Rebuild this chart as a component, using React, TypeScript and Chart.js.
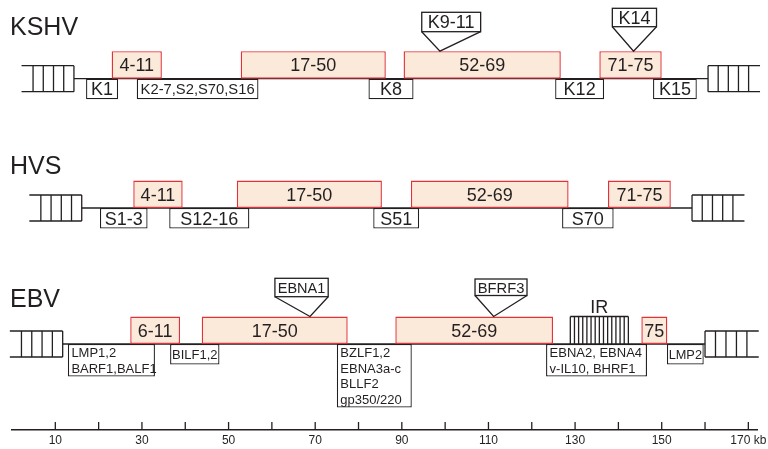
import React, { useEffect, useRef } from 'react';
import { Chart, registerables } from 'chart.js';

Chart.register(...registerables);

// ---------------- DATA (kb) ----------------
const GENOMES = ['KSHV', 'HVS', 'EBV'];

// Conserved gene blocks
const BLOCK_GENOME = [0, 0, 0, 0, 1, 1, 1, 1, 2, 2, 2, 2];
const BLOCK_START = [23.0, 52.8, 90.4, 135.6, 28.0, 51.9, 92.1, 137.6, 27.3, 43.8, 88.5, 145.3];
const BLOCK_END = [34.6, 86.3, 126.7, 150.0, 39.4, 85.4, 128.5, 152.1, 38.8, 77.5, 124.9, 151.3];
const BLOCK_LABELS = ['4-11', '17-50', '52-69', '71-75', '4-11', '17-50', '52-69', '71-75', '6-11', '17-50', '52-69', '75'];

// Unique gene regions
const GENE_GENOME = [0, 0, 0, 0, 0, 1, 1, 1, 1, 2, 2, 2, 2, 2];
const GENE_START = [17.1, 28.8, 82.3, 125.4, 148.0, 20.3, 36.3, 83.4, 127.0, 12.9, 36.5, 75.0, 123.3, 151.2];
const GENE_END = [24.5, 56.9, 92.7, 136.7, 158.1, 31.3, 54.8, 94.0, 138.9, 33.0, 47.9, 92.3, 146.6, 159.7];
const GENE_LABELS = [
  ['K1'], ['K2-7,S2,S70,S16'], ['K8'], ['K12'], ['K15'],
  ['S1-3'], ['S12-16'], ['S51'], ['S70'],
  ['LMP1,2', 'BARF1,BALF1'], ['BILF1,2'], ['BZLF1,2', 'EBNA3a-c', 'BLLF2', 'gp350/220'],
  ['EBNA2, EBNA4', 'v-IL10, BHRF1'], ['LMP2'],
];

// Insertions (site of insertion and labelled box extent)
const INSERT_GENOME = [0, 0, 2, 2];
const INSERT_SITE = [98.8, 143.5, 68.8, 111.2];
const INSERT_START = [94.6, 138.6, 60.7, 106.9];
const INSERT_END = [108.2, 148.8, 73.0, 118.9];
const INSERT_LABELS = ['K9-11', 'K14', 'EBNA1', 'BFRF3'];

// Terminal repeats
const TR_GENOME = [0, 0, 1, 1, 2, 2];
const TR_START = [2.2, 160.7, 4.0, 157.0, -0.5, 160.0];
const TR_END = [14.3, 172.7, 16.1, 169.1, 11.7, 172.4];

// Internal repeat
const IR_GENOME = [2];
const IR_START = [128.9];
const IR_END = [142.3];
const IR_LABELS = ['IR'];

// Genome backbone
const LINE_START = [14.3, 16.1, 11.7];
const LINE_END = [160.7, 157.0, 160.0];

// Axis
const AXIS_TICKS = [10, 20, 30, 40, 50, 60, 70, 80, 90, 100, 110, 120, 130, 140, 150, 160, 170];
const AXIS_LABELS = ['10', '', '30', '', '50', '', '70', '', '90', '', '110', '', '130', '', '150', '', '170 kb'];

// ---------------- LAYOUT / STYLE ----------------
const FONT = "'Liberation Sans', Arial, Helvetica, sans-serif";
const INK = '#231f20';
const BLOCK_FILL = '#fbe9d9';
const BLOCK_EDGE = '#e23238';
const ROW_LINE_Y = [78.7, 208, 344];
const ROW_TITLE_BASE = [35, 174.3, 307.3];
const BLOCK_H = 27.5;
const TR_HALF = 13;
const TR_RUNGS = 5;
const IR_RUNGS = 15;
const GENE_FONT = [18, 18, 13];
const INSERT_TOP = [12.3, 8.3, 278.3, 279];
const INSERT_H = [19.4, 18.4, 18.4, 16.5];

const geneBoxHeight = (n: number) => (n === 1 ? 20.5 : 1.5 + 15.5 * n);

function seg(ctx: CanvasRenderingContext2D, x1: number, y1: number, x2: number, y2: number) {
  ctx.beginPath();
  ctx.moveTo(x1, y1);
  ctx.lineTo(x2, y2);
  ctx.stroke();
}

function fitFont(ctx: CanvasRenderingContext2D, text: string, maxW: number, base: number) {
  let s = base;
  ctx.font = `${s}px ${FONT}`;
  while (ctx.measureText(text).width > maxW && s > 7) {
    s -= 0.25;
    ctx.font = `${s}px ${FONT}`;
  }
  return s;
}

const mapPlugin = {
  id: 'genomeMap',
  beforeDatasetsDraw(chart: any) {
    const { ctx } = chart;
    const xs = chart.scales.x;
    const ys = chart.scales.y;
    const X = (v: number) => xs.getPixelForValue(v);
    const Y = (v: number) => ys.getPixelForValue(v);
    ctx.save();
    ctx.strokeStyle = INK;
    ctx.lineWidth = 1.3;
    // backbone lines
    LINE_START.forEach((s, g) => {
      const yy = Y(ROW_LINE_Y[g]);
      seg(ctx, X(s), yy, X(LINE_END[g]), yy);
    });
    // terminal repeats
    TR_START.forEach((s, i) => {
      const e = TR_END[i];
      const ly = ROW_LINE_Y[TR_GENOME[i]];
      const y1 = Y(ly - TR_HALF);
      const y2 = Y(ly + TR_HALF);
      seg(ctx, X(s), y1, X(e), y1);
      seg(ctx, X(s), y2, X(e), y2);
      const span = (e - s) * 0.78;
      const isLeft = (s + e) / 2 < 86;
      const r0 = isLeft ? e - span : s;
      for (let k = 0; k < TR_RUNGS; k++) {
        const v = r0 + (span * k) / (TR_RUNGS - 1);
        seg(ctx, X(v), y1, X(v), y2);
      }
    });
    // internal repeat comb
    IR_START.forEach((s, i) => {
      const e = IR_END[i];
      const ly = ROW_LINE_Y[IR_GENOME[i]];
      const top = Y(ly - BLOCK_H);
      const bot = Y(ly);
      seg(ctx, X(s), top, X(e), top);
      for (let k = 0; k < IR_RUNGS; k++) {
        const v = s + ((e - s) * k) / (IR_RUNGS - 1);
        seg(ctx, X(v), top, X(v), bot);
      }
    });
    ctx.restore();
  },
  afterDatasetsDraw(chart: any) {
    const { ctx } = chart;
    const xs = chart.scales.x;
    const ys = chart.scales.y;
    const X = (v: number) => xs.getPixelForValue(v);
    const Y = (v: number) => ys.getPixelForValue(v);
    ctx.save();
    ctx.fillStyle = INK;
    ctx.strokeStyle = INK;
    ctx.textBaseline = 'alphabetic';

    // titles
    ctx.textAlign = 'left';
    ctx.font = `25px ${FONT}`;
    GENOMES.forEach((name, g) => {
      ctx.fillText(name, chart.chartArea.left - 2, Y(ROW_TITLE_BASE[g]));
    });

    // block labels
    ctx.textAlign = 'center';
    BLOCK_LABELS.forEach((lab, i) => {
      const ly = ROW_LINE_Y[BLOCK_GENOME[i]];
      const cx = (X(BLOCK_START[i]) + X(BLOCK_END[i])) / 2;
      const w = X(BLOCK_END[i]) - X(BLOCK_START[i]);
      const size = fitFont(ctx, lab, w - 4, 18);
      ctx.fillText(lab, cx, Y(ly - BLOCK_H / 2) + 0.36 * size);
    });

    // gene labels
    GENE_LABELS.forEach((lines, i) => {
      const g = GENE_GENOME[i];
      const ly = ROW_LINE_Y[g];
      const x0 = X(GENE_START[i]);
      const x1 = X(GENE_END[i]);
      const h = geneBoxHeight(lines.length);
      if (lines.length === 1) {
        const size = fitFont(ctx, lines[0], x1 - x0 - (g === 2 ? 3 : 6), GENE_FONT[g]);
        ctx.textAlign = 'center';
        ctx.fillText(lines[0], (x0 + x1) / 2, Y(ly + h / 2) + 0.36 * size);
      } else {
        const size = GENE_FONT[g];
        ctx.font = `${size}px ${FONT}`;
        ctx.textAlign = 'left';
        lines.forEach((t, k) => {
          ctx.fillText(t, x0 + 3.5, Y(ly + 8.6 + 15.5 * k) + 0.36 * size);
        });
      }
    });

    // insertion markers
    ctx.lineWidth = 1.3;
    INSERT_LABELS.forEach((lab, i) => {
      const g = INSERT_GENOME[i];
      const x0 = X(INSERT_START[i]);
      const x1 = X(INSERT_END[i]);
      const top = Y(INSERT_TOP[i]);
      const bot = Y(INSERT_TOP[i] + INSERT_H[i]);
      const apex = Y(ROW_LINE_Y[g] - BLOCK_H);
      ctx.fillStyle = '#ffffff';
      ctx.fillRect(x0, top, x1 - x0, bot - top);
      ctx.strokeRect(x0, top, x1 - x0, bot - top);
      ctx.beginPath();
      ctx.moveTo(x0, bot);
      ctx.lineTo(X(INSERT_SITE[i]), apex);
      ctx.lineTo(x1, bot);
      ctx.stroke();
      ctx.fillStyle = INK;
      const size = fitFont(ctx, lab, x1 - x0 - 5, 18);
      ctx.textAlign = 'center';
      ctx.fillText(lab, (x0 + x1) / 2, (top + bot) / 2 + 0.36 * size);
    });

    // IR label
    ctx.font = `18px ${FONT}`;
    ctx.textAlign = 'center';
    IR_LABELS.forEach((lab, i) => {
      const ly = ROW_LINE_Y[IR_GENOME[i]];
      ctx.fillText(lab, (X(IR_START[i]) + X(IR_END[i])) / 2, Y(ly - BLOCK_H - 3.4));
    });
    ctx.restore();
  },
  afterDraw(chart: any) {
    const { ctx } = chart;
    const xs = chart.scales.x;
    const bottom = chart.chartArea.bottom;
    ctx.save();
    ctx.strokeStyle = INK;
    ctx.lineWidth = 1.3;
    AXIS_TICKS.forEach((v) => {
      const px = xs.getPixelForValue(v);
      seg(ctx, px, bottom, px, bottom - 8);
    });
    ctx.restore();
  },
};

export default function App() {
  const ref = useRef<HTMLCanvasElement>(null);
  useEffect(() => {
    const canvas = ref.current;
    if (!canvas) return;

    const common = {
      grouped: false,
      borderSkipped: false,
      inflateAmount: 0,
    };
    const blockDataset = {
      ...common,
      label: 'conserved',
      data: BLOCK_START.map((s, i) => ({ x: [s, BLOCK_END[i]], y: ROW_LINE_Y[BLOCK_GENOME[i]] - BLOCK_H / 2 })),
      backgroundColor: BLOCK_FILL,
      borderColor: BLOCK_EDGE,
      borderWidth: 1.4,
      barThickness: BLOCK_H,
    };
    const heights = Array.from(new Set(GENE_LABELS.map((l) => geneBoxHeight(l.length))));
    const geneDatasets = heights.map((h) => ({
      ...common,
      label: 'unique',
      data: GENE_START.map((s, i) => ({ i, s }))
        .filter(({ i }) => geneBoxHeight(GENE_LABELS[i].length) === h)
        .map(({ i, s }) => ({ x: [s, GENE_END[i]], y: ROW_LINE_Y[GENE_GENOME[i]] + h / 2 })),
      backgroundColor: '#ffffff',
      borderColor: INK,
      borderWidth: 1.3,
      barThickness: h,
    }));

    const chart = new Chart(canvas, {
      type: 'bar',
      data: { datasets: [...geneDatasets, blockDataset] as any },
      options: {
        indexAxis: 'y',
        responsive: false,
        animation: false,
        events: [],
        layout: { padding: { left: 12, right: 11, top: 0, bottom: 0 } },
        scales: {
          x: {
            type: 'linear',
            position: 'bottom',
            min: 0,
            max: 172,
            offset: false,
            stacked: false,
            grid: { display: true, drawOnChartArea: false, drawTicks: false },
            border: { display: true, color: INK, width: 1.4 },
            afterBuildTicks: (s: any) => {
              s.ticks = AXIS_TICKS.map((v) => ({ value: v }));
            },
            afterFit: (s: any) => {
              s.height = 19;
              s.paddingLeft = 0;
              s.paddingRight = 0;
            },
            ticks: {
              autoSkip: false,
              maxRotation: 0,
              minRotation: 0,
              padding: 3,
              color: INK,
              font: { family: FONT, size: 12 },
              callback: (v: any) => {
                const k = AXIS_TICKS.indexOf(Number(v));
                return k >= 0 ? AXIS_LABELS[k] : '';
              },
            },
          },
          y: { type: 'linear', min: 0, max: 430, reverse: true, display: false, offset: false },
        },
        plugins: { legend: { display: false }, tooltip: { enabled: false } },
      } as any,
      plugins: [mapPlugin],
    });
    return () => chart.destroy();
  }, []);

  return (
    <div style={{ position: 'fixed', left: 0, top: 0, width: 768, height: 449, background: '#ffffff' }}>
      <canvas ref={ref} width={768} height={449} style={{ display: 'block', width: 768, height: 449 }} />
    </div>
  );
}
